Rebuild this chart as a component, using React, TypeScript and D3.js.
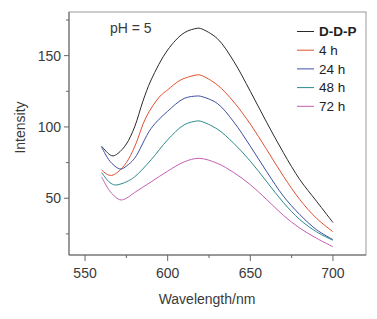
import React from "react";
import * as d3 from "d3";

const seriesNames = ["D-D-P", "4 h", "24 h", "48 h", "72 h"];
const seriesColors = ["#2a2a2a", "#e2502f", "#3f4fa0", "#2b8a8c", "#c25fb4"];

const wlDDP = [560, 565, 567, 570, 575, 580, 585, 590, 600, 610, 618, 620, 630, 640, 650, 660, 670, 680, 690, 700];
const valDDP = [86.5, 80.5, 79.7, 81.5, 88, 100, 118, 133, 154, 166, 169.2, 169, 162, 146, 125, 103, 82, 63, 48, 33];

const wl4h = [560, 563, 566, 570, 575, 580, 587, 595, 600, 608, 618, 620, 630, 640, 650, 660, 670, 680, 690, 700];
const val4h = [70, 67, 66, 68.5, 75, 86, 107, 121, 126, 133, 136.5, 136.3, 129.5, 117.5, 102, 84, 65.5, 49, 36, 26.5];

const wl24h = [560, 565, 570, 572, 575, 580, 590, 600, 610, 618, 620, 630, 640, 650, 660, 670, 680, 690, 700];
const val24h = [86, 76, 71, 70.5, 72.5, 78, 99, 111, 120, 121.7, 121.5, 116.5, 103.5, 86.5, 68.5, 51.5, 38.5, 28, 21];

const wl48h = [560, 565, 568, 570, 575, 580, 590, 600, 610, 618, 620, 630, 640, 650, 660, 670, 680, 690, 700];
const val48h = [68, 61, 59.3, 59.5, 61.5, 65, 77, 91, 101.5, 104.2, 104, 98.5, 88.5, 76, 61.5, 47, 35, 26.5, 20.5];

const wl72h = [560, 565, 570, 572, 575, 580, 590, 600, 610, 619, 630, 640, 650, 660, 670, 680, 690, 700];
const val72h = [65, 55, 49.5, 48.8, 50, 54, 61.5, 69, 75.5, 78, 74.5, 68, 59.5, 49, 38, 29, 22, 16];

const seriesX = [wlDDP, wl4h, wl24h, wl48h, wl72h];
const seriesY = [valDDP, val4h, val24h, val48h, val72h];

const xMajor = [550, 600, 650, 700];
const xMinor = [575, 625, 675];
const yMajor = [50, 100, 150];
const yMinor = [25, 75, 125, 175];

const W = 377;
const H = 319;
const M = { left: 69, top: 12, right: 366, bottom: 255 };

export default function App() {
  const x = d3.scaleLinear().domain([540.3, 720]).range([M.left, M.right]);
  const y = d3.scaleLinear().domain([10.2, 180.6]).range([M.bottom, M.top]);
  const line = d3
    .line<[number, number]>()
    .x((d) => x(d[0]))
    .y((d) => y(d[1]))
    .curve(d3.curveCatmullRom.alpha(0.5));

  const font = "'Liberation Sans', Arial, sans-serif";
  const axisColor = "#666";
  const textColor = "#3a3a3a";

  return (
    <svg
      width={W}
      height={H}
      style={{ position: "absolute", left: 0, top: 0, background: "#fff" }}
      fontFamily={font}
    >
      <rect x={0} y={0} width={W} height={H} fill="#fff" />
      <rect
        x={M.left}
        y={M.top}
        width={M.right - M.left}
        height={M.bottom - M.top}
        fill="none"
        stroke="#9a9a9a"
        strokeWidth={1}
      />
      <line x1={M.left} x2={M.left} y1={M.top} y2={M.bottom} stroke={axisColor} />
      <line x1={M.left} x2={M.right} y1={M.bottom} y2={M.bottom} stroke={axisColor} />

      {xMajor.map((t) => (
        <g key={"xm" + t}>
          <line x1={x(t)} x2={x(t)} y1={M.bottom} y2={M.bottom + 6} stroke={axisColor} />
          <text x={x(t)} y={M.bottom + 23} textAnchor="middle" fontSize={14} fill={textColor}>
            {t}
          </text>
        </g>
      ))}
      {xMinor.map((t) => (
        <line key={"xn" + t} x1={x(t)} x2={x(t)} y1={M.bottom} y2={M.bottom + 3} stroke={axisColor} />
      ))}

      {yMajor.map((t) => (
        <g key={"ym" + t}>
          <line x1={M.left - 5} x2={M.left} y1={y(t)} y2={y(t)} stroke={axisColor} />
          <text x={M.left - 8} y={y(t)} dy="0.35em" textAnchor="end" fontSize={14} fill={textColor}>
            {t}
          </text>
        </g>
      ))}
      {yMinor.map((t) => (
        <line key={"yn" + t} x1={M.left - 3} x2={M.left} y1={y(t)} y2={y(t)} stroke={axisColor} />
      ))}

      <text
        transform={`translate(20, 127.5) rotate(-90)`}
        textAnchor="middle"
        dy="0.35em"
        fontSize={14}
        fill={textColor}
      >
        Intensity
      </text>
      <text x={207} y={304} textAnchor="middle" fontSize={14} fill={textColor}>
        Wavelength/nm
      </text>

      <text x={110} y={33} fontSize={14} fill={textColor}>
        pH = 5
      </text>

      {seriesNames.map((name, i) => {
        const pts = seriesX[i].map((w, j) => [w, seriesY[i][j]] as [number, number]);
        return (
          <path
            key={name}
            d={line(pts) || ""}
            fill="none"
            stroke={seriesColors[i]}
            strokeWidth={1}
          />
        );
      })}

      {seriesNames.map((name, i) => {
        const ly = 31.5 + i * 18.7;
        return (
          <g key={"lg" + name}>
            <line x1={297} x2={314} y1={ly} y2={ly} stroke={seriesColors[i]} strokeWidth={1} />
            <text
              x={319}
              y={ly}
              dy="0.35em"
              fontSize={13.5}
              fontWeight={i === 0 ? "bold" : "normal"}
              fill="#222"
            >
              {name}
            </text>
          </g>
        );
      })}
    </svg>
  );
}
